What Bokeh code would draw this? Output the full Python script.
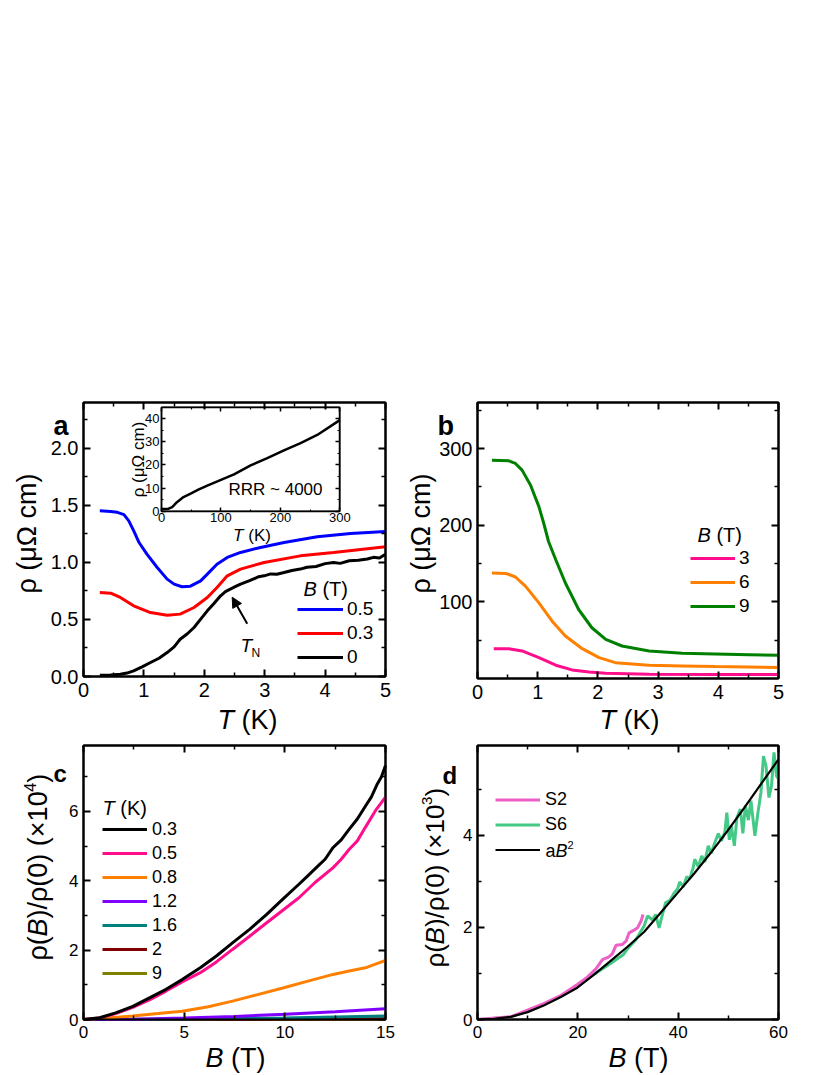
import numpy as np
from bokeh.plotting import figure
from bokeh.models import (Range1d, LinearAxis, FixedTicker, Label, Legend, LegendItem,
                          Arrow, NormalHead, NumeralTickFormatter, CustomJSTickFormatter)
from bokeh.core.properties import value
from bokeh.layouts import column, row
from bokeh.embed import file_html
from bokeh.resources import INLINE

FONT = "Liberation Sans"

# ---------------- data: panel a (rho vs T at B = 0.5, 0.3, 0 T) ----------------
a_T_05 = [0.27, 0.45, 0.56, 0.67, 0.75, 0.83, 0.92, 1.05, 1.22, 1.385, 1.5, 1.63, 1.77, 1.94,
          2.05, 2.21, 2.38, 2.6, 2.93, 3.32, 3.87, 4.42, 5.0]
a_rho_05 = [1.453, 1.448, 1.44, 1.42, 1.365, 1.28, 1.175, 1.073, 0.956, 0.854, 0.81, 0.787, 0.792,
            0.839, 0.898, 0.985, 1.044, 1.088, 1.132, 1.175, 1.225, 1.254, 1.272]
a_T_03 = [0.27, 0.45, 0.61, 0.83, 1.11, 1.385, 1.6, 1.83, 2.05, 2.21, 2.38, 2.6, 2.99, 3.59, 4.14, 5.0]
a_rho_03 = [0.737, 0.731, 0.693, 0.62, 0.561, 0.538, 0.547, 0.605, 0.693, 0.781, 0.883, 0.942,
            1.0, 1.058, 1.088, 1.137]
a_T_0 = [0.27, 0.45, 0.61, 0.72, 0.83, 0.97, 1.11, 1.25, 1.385, 1.5, 1.6, 1.72, 1.83, 1.95, 2.05,
         2.16, 2.27, 2.35, 2.43, 2.52, 2.6, 2.75, 2.9, 2.99, 3.1, 3.2, 3.32, 3.45, 3.59, 3.7, 3.85,
         4.0, 4.14, 4.25, 4.4, 4.55, 4.7, 4.8, 4.9, 5.0]
a_rho_0 = [0.012, 0.013, 0.02, 0.03, 0.05, 0.085, 0.123, 0.16, 0.21, 0.26, 0.327, 0.375, 0.43,
           0.51, 0.576, 0.64, 0.708, 0.745, 0.766, 0.79, 0.81, 0.84, 0.875, 0.883, 0.9, 0.897,
           0.912, 0.93, 0.942, 0.958, 0.965, 0.99, 1.0, 0.992, 1.015, 1.02, 1.03, 1.045, 1.04, 1.073]
a_labels = ["0.5", "0.3", "0"]
a_colors = ["#0000ff", "#ff0000", "#000000"]

# inset (rho vs T up to 300 K)
in_T = [1, 12, 18, 26, 37, 49, 62, 77, 95, 122, 150, 178, 206, 234, 262, 300]
in_rho = [0.9, 1.1, 1.8, 3.9, 6.1, 7.6, 9.3, 11.1, 13.0, 15.9, 19.8, 23.0, 26.3, 29.5, 33.0, 39.4]
INSET_X = (0, 300)
INSET_Y = (0, 45)

# ---------------- data: panel b (B = 3, 6, 9 T) ----------------
b_T_3 = [0.27, 0.52, 0.74, 1.02, 1.30, 1.57, 1.85, 2.13, 2.85, 3.95, 5.0]
b_rho_3 = [38.9, 38.9, 35.9, 27.2, 17.3, 11.2, 8.6, 6.9, 5.6, 5.2, 5.2]
b_T_6 = [0.24, 0.47, 0.63, 0.80, 1.02, 1.24, 1.46, 1.74, 2.02, 2.29, 2.85, 3.40, 3.95, 5.0]
b_rho_6 = [137.6, 137.1, 132.4, 120.2, 98.6, 74.8, 55.4, 38.9, 27.2, 20.7, 17.3, 16.4, 15.5, 14.3]
b_T_9 = [0.24, 0.52, 0.63, 0.74, 0.88, 1.02, 1.10, 1.18, 1.30, 1.46, 1.68, 1.90, 2.13, 2.40, 2.85,
         3.40, 3.95, 4.51, 5.0]
b_rho_9 = [284.8, 284.0, 280.5, 271.8, 252.4, 224.2, 202.5, 178.7, 154.9, 124.6, 90.0, 66.2, 51.0,
           42.4, 35.9, 32.9, 32.0, 31.1, 30.3]
b_labels = ["3", "6", "9"]
b_colors = ["#ff0d8c", "#ff8000", "#008000"]

# ---------------- data: panel c (rho(B)/rho(0) x1e4 vs B) ----------------
c_B_03 = [0, 0.8, 1.6, 2.45, 3.3, 4.1, 4.9, 5.8, 6.6, 7.4, 8.25, 9.1, 9.9, 10.7, 11.1, 11.6, 12.0,
          12.4, 12.8, 13.2, 13.6, 14.0, 14.3, 14.6, 14.8, 15.0]
c_v_03 = [0, 0.05, 0.19, 0.38, 0.63, 0.87, 1.15, 1.49, 1.83, 2.21, 2.60, 3.03, 3.47, 3.90, 4.12,
          4.40, 4.62, 4.96, 5.18, 5.49, 5.78, 6.15, 6.42, 6.80, 7.00, 7.32]
c_B_05 = [0, 0.8, 1.6, 2.45, 3.3, 4.1, 4.9, 5.8, 6.6, 7.4, 8.25, 9.1, 9.9, 10.7, 11.5, 12.4, 12.8,
          13.2, 13.6, 14.0, 14.5, 15.0]
c_v_05 = [0, 0.04, 0.17, 0.35, 0.57, 0.82, 1.08, 1.35, 1.66, 2.02, 2.40, 2.79, 3.15, 3.51, 3.95,
          4.38, 4.62, 4.91, 5.15, 5.54, 6.02, 6.41]
c_B_08 = [0, 1.2, 2.45, 3.7, 4.9, 6.2, 7.4, 8.6, 9.9, 11.1, 12.4, 13.2, 14.0, 14.6, 15.0]
c_v_08 = [0, 0.04, 0.10, 0.17, 0.24, 0.37, 0.53, 0.71, 0.91, 1.10, 1.30, 1.40, 1.49, 1.62, 1.70]
c_B_12 = [0, 2.5, 5, 7.5, 10, 12.5, 15]
c_v_12 = [0, 0.01, 0.04, 0.09, 0.15, 0.22, 0.31]
c_B_16 = [0, 5, 10, 15]
c_v_16 = [0, 0.015, 0.045, 0.10]
c_B_2 = [0, 5, 10, 15]
c_v_2 = [0, 0.005, 0.012, 0.025]
c_B_9 = [0, 5, 10, 15]
c_v_9 = [0, 0.002, 0.004, 0.006]
c_labels = ["0.3", "0.5", "0.8", "1.2", "1.6", "2", "9"]
c_colors = ["#000000", "#ff0d8c", "#ff8000", "#8000ff", "#008080", "#800000", "#808000"]

# ---------------- data: panel d (rho(B)/rho(0) x1e3 vs B) ----------------
d_B_S2 = [0, 6.6, 13.3, 16.6, 19.9, 21.9, 23.6, 24.9, 26.2, 26.9, 27.6, 28.9, 29.6, 30.2, 31.2,
          31.9, 32.6, 33.0]
d_v_S2 = [0, 0.058, 0.35, 0.52, 0.76, 0.92, 1.10, 1.30, 1.36, 1.43, 1.61, 1.63, 1.70, 1.88, 1.94,
          1.99, 2.14, 2.28]
d_B_S6 = [0, 6.6, 13.3, 16.6, 19.9, 23.3, 26.6, 28.0, 29.0, 30.0,
          31.5, 33.2, 33.9, 34.9, 35.5, 36.2, 36.7, 37.5, 38.4, 39.2,
          39.9, 40.3, 41.0, 41.7, 42.3, 43.0, 43.3, 44.0, 44.7, 45.3,
          46.0, 46.6, 47.3, 48.0, 48.6, 49.3, 49.7, 50.2, 50.6, 51.2,
          51.7, 52.4, 52.9, 53.4, 54.0, 54.5, 55.3, 55.9, 56.5, 57.0,
          57.5, 58.1, 58.6, 59.1, 59.6, 60.0]
d_v_S6 = [0, 0.05, 0.33, 0.50, 0.72, 0.99, 1.22, 1.33, 1.40, 1.55,
          1.72, 2.03, 2.25, 2.16, 2.28, 1.99, 2.21, 2.54, 2.59, 2.75,
          2.84, 2.99, 2.88, 3.10, 3.06, 3.30, 3.48, 3.32, 3.55, 3.42,
          3.77, 3.61, 3.84, 4.04, 3.88, 4.07, 4.49, 3.90, 4.20, 3.77,
          4.38, 4.57, 4.04, 4.65, 4.33, 4.75, 3.99, 4.49, 4.93, 5.72,
          5.51, 4.82, 5.07, 5.80, 5.29, 5.22]
d_B_fit = [0, 3.3, 6.6, 10, 13.3, 16.6, 19.9, 23.3, 26.6, 29.9, 33.2, 36.5, 39.9, 43.2, 46.5, 49.8,
           53.2, 56.5, 60]
d_v_fit = [0, 0.014, 0.058, 0.16, 0.31, 0.49, 0.69, 0.98, 1.28, 1.58, 1.90, 2.32, 2.75, 3.17, 3.62,
           4.09, 4.60, 5.11, 5.65]
d_labels = ["S2", "S6", " "]
d_colors = ["#ee5fc7", "#44c986", "#000000"]

# ---------------- geometry (page pixels; page margin is 0) ----------------
EM = {' ': 0.278, '(': 0.333, ')': 0.333, '/': 0.278, '.': 0.278, 'B': 0.667, 'T': 0.611,
      'K': 0.667, 'R': 0.722, 'S': 0.667, 'N': 0.722, 'a': 0.556, 'c': 0.5, 'm': 0.833,
      'ρ': 0.556, 'μ': 0.576, 'Ω': 0.768, '×': 0.584, '~': 0.584}


def tw(s, size):
    return sum(EM.get(ch, 0.556) for ch in s) * size


class Panel:
    """Canvas rect (cx, cy, cw, ch) on the page, plot box rect (L, T, W, H) with data limits xr, yr."""

    def __init__(self, canvas, box, xr, yr):
        self.cx, self.cy, self.cw, self.ch = canvas
        self.L, self.T, self.W, self.H = box
        self.xr, self.yr = xr, yr
        self.sx = (xr[1] - xr[0]) / self.W
        self.sy = (yr[1] - yr[0]) / self.H
        self.fx = (xr[0] - (self.L - self.cx) * self.sx,
                   xr[1] + (self.cx + self.cw - self.L - self.W) * self.sx)
        self.fy = (yr[0] - (self.cy + self.ch - self.T - self.H) * self.sy,
                   yr[1] + (self.T - self.cy) * self.sy)
        p = figure(width=self.cw, height=self.ch, x_range=Range1d(*self.fx),
                   y_range=Range1d(*self.fy), output_backend="svg", toolbar_location=None,
                   title=None, min_border=0, x_axis_location=None, y_axis_location=None)
        p.xgrid.visible = False
        p.ygrid.visible = False
        p.outline_line_color = None
        p.background_fill_color = "white"
        p.border_fill_color = "white"
        self.p = p

    def d(self, px, py):
        return (self.xr[0] + (px - self.L) * self.sx, self.yr[0] + (self.T + self.H - py) * self.sy)

    def screen(self, px, py):
        # legend location: from canvas bottom-left
        return (px - self.cx, self.cy + self.ch - py)


def style_axis(ax, ticks, minor, size, standoff, tin=7, tmin=4, lw=2, show=True, fmt=None):
    ax.ticker = FixedTicker(ticks=ticks, minor_ticks=minor)
    ax.major_tick_in = tin
    ax.major_tick_out = 0
    ax.minor_tick_in = tmin
    ax.minor_tick_out = 0
    ax.axis_line_color = "black"
    ax.axis_line_width = lw
    ax.major_tick_line_color = "black"
    ax.major_tick_line_width = lw
    ax.minor_tick_line_color = "black"
    ax.minor_tick_line_width = lw * 0.75
    ax.major_label_text_font = FONT
    ax.major_label_text_font_size = f"{max(size, 10)}px"
    ax.major_label_text_color = "black"
    ax.major_label_standoff = standoff
    if not show:
        ax.formatter = CustomJSTickFormatter(code="return ''")
    elif fmt:
        ax.formatter = NumeralTickFormatter(format=fmt)


def box_axes(P, xt, xm, yt, ym, size, yfmt=None, xr_name="default", yr_name="default",
             xr=None, yr=None, tin=7, tmin=4, lw=2, xstand=6, ystand=5):
    p = P.p
    xr = xr or P.xr
    yr = yr or P.yr
    b = LinearAxis(x_range_name=xr_name, y_range_name=yr_name, fixed_location=yr[0], bounds=xr)
    style_axis(b, xt, xm, size, xstand, tin, tmin, lw)
    p.add_layout(b, "below")
    l = LinearAxis(x_range_name=xr_name, y_range_name=yr_name, fixed_location=xr[0], bounds=yr)
    style_axis(l, yt, ym, size, ystand, tin, tmin, lw, fmt=yfmt)
    p.add_layout(l, "left")
    t = LinearAxis(x_range_name=xr_name, y_range_name=yr_name, fixed_location=yr[1], bounds=xr)
    style_axis(t, xt, xm, size, 0, tin, tmin, lw, show=False)
    p.add_layout(t, "above")
    r = LinearAxis(x_range_name=xr_name, y_range_name=yr_name, fixed_location=xr[1], bounds=yr)
    style_axis(r, yt, ym, size, 0, tin, tmin, lw, show=False)
    p.add_layout(r, "right")
    p.quad(left=[xr[0]], right=[xr[1]], bottom=[yr[0]], top=[yr[1]], x_range_name=xr_name,
           y_range_name=yr_name, fill_color=None, line_color="black", line_width=lw)


def add_text(P, px, py, text, size, style="normal", align="left", baseline="middle", angle=0.0):
    x, y = P.d(px, py)
    P.p.add_layout(Label(x=x, y=y, text=text, text_font=FONT, text_font_size=f"{size}px",
                         text_font_style=style, text_align=align, text_baseline=baseline,
                         angle=angle, text_color="black"))


def add_segments(P, px, py, segs, center=False, angle=0.0):
    total = sum(tw(t, s) for t, s, st, sh in segs)
    pos = -total / 2 if center else 0.0
    for t, s, st, sh in segs:
        lead = len(t) - len(t.lstrip(' '))
        pos += tw(' ' * lead, s)
        t2 = t.lstrip(' ')
        if angle == 0:
            add_text(P, px + pos, py - sh, t2, s, st)
        else:
            add_text(P, px - sh, py - pos, t2, s, st, angle=angle)
        pos += tw(t2, s)


def add_legend(P, renderers, labels, glyph_left, bottom, gw, gh, standoff, size):
    items = [LegendItem(label=value(l), renderers=[r]) for l, r in zip(labels, renderers)]
    leg = Legend(items=items, location=P.screen(glyph_left, bottom), orientation="vertical",
                 glyph_width=gw, glyph_height=gh, label_height=gh, label_standoff=standoff,
                 spacing=0, padding=0, margin=0, border_line_alpha=0, background_fill_alpha=0,
                 label_text_font=FONT, label_text_font_size=f"{size}px", label_text_color="black")
    P.p.add_layout(leg)


ROT = np.pi / 2

# ================= panel a =================
A = Panel((0, 0, 397, 738), (83, 402, 302, 274), (0, 5), (0, 2.403))
pa = A.p
box_axes(A, [0, 1, 2, 3, 4, 5], [0.5, 1.5, 2.5, 3.5, 4.5], [0, 0.5, 1.0, 1.5, 2.0],
         [0.25, 0.75, 1.25, 1.75, 2.25], 20, yfmt="0.0")

# inset via extra ranges mapped into a sub-box of the canvas
IL, IR, IT, IB = 161, 339.3, 406.7, 510.7
isx = (INSET_X[1] - INSET_X[0]) / (IR - IL)
isy = (INSET_Y[1] - INSET_Y[0]) / (IB - IT)
pa.extra_x_ranges = {"ix": Range1d(INSET_X[0] - (IL - A.cx) * isx,
                                   INSET_X[1] + (A.cx + A.cw - IR) * isx)}
pa.extra_y_ranges = {"iy": Range1d(INSET_Y[0] - (A.cy + A.ch - IB) * isy,
                                   INSET_Y[1] + (IT - A.cy) * isy)}
pa.quad(left=[INSET_X[0]], right=[INSET_X[1]], bottom=[INSET_Y[0]], top=[INSET_Y[1]],
        x_range_name="ix", y_range_name="iy", fill_color="white", line_color=None)
pa.line(in_T, in_rho, x_range_name="ix", y_range_name="iy", line_color="black", line_width=2.5)
box_axes(A, [0, 100, 200, 300], [50, 150, 250], [0, 10, 20, 30, 40], [5, 15, 25, 35, 45], 13,
         xr_name="ix", yr_name="iy", xr=INSET_X, yr=INSET_Y, tin=4, tmin=2, lw=1.5,
         xstand=2, ystand=2)

ra = [pa.line(a_T_05, a_rho_05, line_color=a_colors[0], line_width=3),
      pa.line(a_T_03, a_rho_03, line_color=a_colors[1], line_width=3),
      pa.line(a_T_0, a_rho_0, line_color=a_colors[2], line_width=3)]
add_legend(A, ra, a_labels, 297, 669, 46, 24, 4, 19)
add_segments(A, 303, 588, [("B", 20, "italic", 0), (" (T)", 20, "normal", 0)])

add_text(A, 228, 489, "RRR ~ 4000", 17)
add_segments(A, 251.5, 534.5, [("T", 17, "italic", 0), (" (K)", 17, "normal", 0)], center=True)
add_text(A, 137.5, 459, "ρ (μΩ cm)", 17, align="center", angle=ROT)

# T_N arrow
ax0, ay0 = A.d(246.7, 623.3)
ax1, ay1 = A.d(231.7, 596.7)
pa.add_layout(Arrow(end=NormalHead(size=10, fill_color="black", line_color="black"),
                    x_start=ax0, y_start=ay0, x_end=ax1, y_end=ay1, line_width=2, line_color="black"))
add_text(A, 240, 645, "T", 19, "italic", baseline="alphabetic")
add_text(A, 251, 652, "N", 12, baseline="alphabetic")

add_text(A, 53, 425, "a", 27, "bold", baseline="alphabetic")
add_text(A, 26, 533, "ρ (μΩ cm)", 27, align="center", angle=ROT)
add_segments(A, 247, 719, [("T", 27, "italic", 0), (" (K)", 27, "normal", 0)], center=True)

# ================= panel b =================
Bp = Panel((397, 0, 401, 738), (477, 402, 301, 276), (0, 5), (0, 360))
pb = Bp.p
box_axes(Bp, [0, 1, 2, 3, 4, 5], [0.5, 1.5, 2.5, 3.5, 4.5], [100, 200, 300],
         [50, 150, 250, 350], 20)
rb = [pb.line(b_T_3, b_rho_3, line_color=b_colors[0], line_width=3),
      pb.line(b_T_6, b_rho_6, line_color=b_colors[1], line_width=3),
      pb.line(b_T_9, b_rho_9, line_color=b_colors[2], line_width=3)]
add_legend(Bp, rb, b_labels, 690, 618, 45, 24, 4, 19)
add_segments(Bp, 697, 534, [("B", 20, "italic", 0), (" (T)", 20, "normal", 0)])
add_text(Bp, 437, 425, "b", 27, "bold", baseline="alphabetic")
add_text(Bp, 420, 533, "ρ (μΩ cm)", 27, align="center", angle=ROT)
add_segments(Bp, 629, 719, [("T", 27, "italic", 0), (" (K)", 27, "normal", 0)], center=True)

# ================= panel c =================
C = Panel((0, 738, 397, 337), (83, 745, 302, 274), (0, 15), (0, 7.9))
pc = C.p
box_axes(C, [0, 5, 10, 15], [2.5, 7.5, 12.5], [0, 2, 4, 6], [1, 3, 5, 7], 17)
c_series = [(c_B_9, c_v_9), (c_B_2, c_v_2), (c_B_16, c_v_16), (c_B_12, c_v_12),
            (c_B_08, c_v_08), (c_B_05, c_v_05), (c_B_03, c_v_03)]
c_cols_draw = list(reversed(c_colors))
rc_rev = [pc.line(bx, vy, line_color=col, line_width=3) for (bx, vy), col in zip(c_series, c_cols_draw)]
rc = list(reversed(rc_rev))
add_legend(C, rc, c_labels, 102, 985, 45, 24, 5, 18)
add_segments(C, 102, 807, [("T", 20, "italic", 0), (" (K)", 20, "normal", 0)])
add_text(C, 53, 773, "c", 24, "bold", baseline="alphabetic")
add_segments(C, 37, 960, [("ρ(", 27, "normal", 0), ("B", 27, "italic", 0),
                          (")/ρ(0) (×10", 27, "normal", 0), ("4", 16, "normal", 8),
                          (")", 27, "normal", 0)], angle=ROT)
add_segments(C, 235, 1057, [("B", 27, "italic", 0), (" (T)", 27, "normal", 0)], center=True)

# ================= panel d =================
D = Panel((397, 738, 401, 337), (477, 745, 301, 274), (0, 60), (0, 5.95))
pd_ = D.p
box_axes(D, [0, 20, 40, 60], [10, 30, 50], [0, 2, 4], [1, 3, 5], 17)
r_s6 = pd_.line(d_B_S6, d_v_S6, line_color=d_colors[1], line_width=3)
r_s2 = pd_.line(d_B_S2, d_v_S2, line_color=d_colors[0], line_width=3)
r_fit = pd_.line(d_B_fit, d_v_fit, line_color=d_colors[2], line_width=2.2)
add_legend(D, [r_s2, r_s6, r_fit], d_labels, 495, 862, 45, 25, 5, 18)
add_text(D, 545, 850, "a", 18)
add_text(D, 555, 850, "B", 18, "italic")
add_text(D, 567, 844, "2", 11)
add_text(D, 442, 775, "d", 24, "bold", baseline="alphabetic")
add_segments(D, 434, 967, [("ρ(", 26, "normal", 0), ("B", 26, "italic", 0),
                           (")/ρ(0) (×10", 26, "normal", 0), ("3", 15, "normal", 8),
                           (")", 26, "normal", 0)], angle=ROT)
add_segments(D, 638, 1057, [("B", 27, "italic", 0), (" (T)", 27, "normal", 0)], center=True)

layout = column(row(pa, pb), row(pc, pd_))
open("out.html", "w").write(file_html(layout, INLINE))
